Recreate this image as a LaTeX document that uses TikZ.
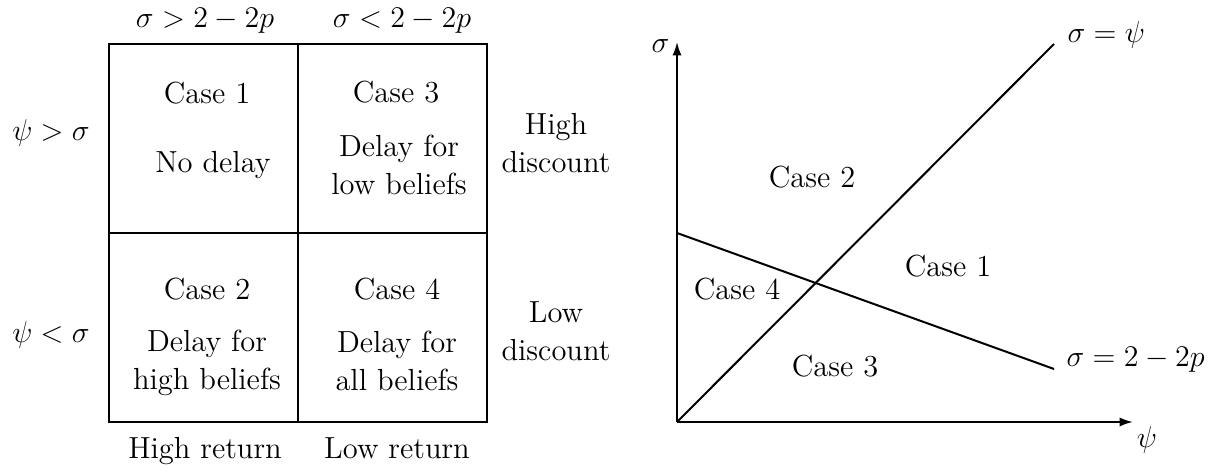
\documentclass[tikz,border=0pt]{standalone}
\usepackage{amsmath,amssymb}
\usepackage{tikz}
\usetikzlibrary{arrows.meta,positioning,calc}

\begin{document}
\begin{tikzpicture}[x=0.4pt, y=0.4pt,
  font=\fontsize{12.2}{15.2}\selectfont,
  cell/.style={align=center, inner sep=0pt},
  lbl/.style={align=center, inner sep=0pt},
  axis/.style={-{Latex[length=1.9mm, width=1.3mm]}, line width=0.8pt},
  curve/.style={line width=0.8pt}
]
\useasboundingbox (0,0) rectangle (1223,470);
% left: 2x2 table
\draw[line width=1pt] (109,48) rectangle (487,426);
\draw[line width=1pt] (298,48) -- (298,426);
\draw[line width=1pt] (109,237) -- (487,237);
\node[lbl, anchor=base] (colA) at (205,442) {$\sigma > 2-2p$};
\node[lbl, anchor=base] (colB) at (402,442) {$\sigma < 2-2p$};
\node[lbl, anchor=base] (rowA) at (51,329) {$\psi > \sigma$};
\node[lbl, anchor=base] (rowB) at (51,127) {$\psi < \sigma$};
\node[lbl] (hidisc) at (556,327) {High\\discount};
\node[lbl] (lodisc) at (556,139) {Low\\discount};
\node[lbl, anchor=base] (hiret) at (205,11) {High return};
\node[lbl, anchor=base] (loret) at (397,11) {Low return};
\node[cell, anchor=base] (c1) at (207,366) {Case 1};
\node[cell, anchor=base] (d1) at (213,297) {No delay};
\node[cell, anchor=base] (c3) at (396,367) {Case 3};
\node[cell] (d3) at (399,305) {Delay for\\low beliefs};
\node[cell, anchor=base] (c2) at (207,170) {Case 2};
\node[cell] (d2) at (207,107) {Delay for\\high beliefs};
\node[cell, anchor=base] (c4) at (397,170) {Case 4};
\node[cell] (d4) at (397,109) {Delay for\\all beliefs};
% right: regions in (psi, sigma)
\coordinate (O) at (677,48);
\coordinate (ytop) at (677,428);
\coordinate (xend) at (1133,48);
\coordinate (diagend) at (1054,426);
\coordinate (linestart) at (677,237);
\coordinate (lineend) at (1054,101);
\draw[axis] (O) -- (ytop);
\draw[axis] (O) -- (xend);
\draw[curve] (O) -- (diagend);
\draw[curve] (linestart) -- (lineend);
\node[lbl, anchor=base east] (sig) at (670,417) {$\sigma$};
\node[lbl, anchor=base] (psi) at (1147,22) {$\psi$};
\node[lbl, anchor=base west] (eqpsi) at (1067,427) {$\sigma = \psi$};
\node[lbl, anchor=base west] (eqline) at (1066,103) {$\sigma = 2-2p$};
\node[cell, anchor=base] (r2) at (812,282) {Case 2};
\node[cell, anchor=base] (r1) at (948,193) {Case 1};
\node[cell, anchor=base] (r4) at (737,170) {Case 4};
\node[cell, anchor=base] (r3) at (835,93) {Case 3};
\end{tikzpicture}
\end{document}
